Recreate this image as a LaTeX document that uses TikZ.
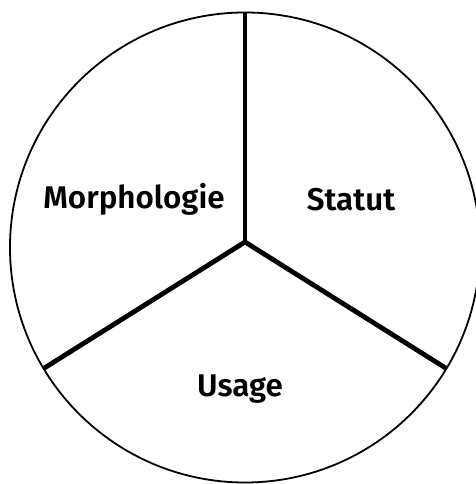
\documentclass[tikz,border=0pt]{standalone}
\usepackage{fontspec}
\setmainfont{Fira Sans}[BoldFont={Fira Sans SemiBold}]
\usepackage{tikz}
\usetikzlibrary{calc}
\begin{document}
\begin{tikzpicture}[x=1bp,y=1bp,
  part/.style={font=\fontsize{31.5}{36}\selectfont\bfseries,inner sep=0pt},
  divider/.style={line width=4.8bp}]
\useasboundingbox (0,0) rectangle (476,484);
\clip (0,0) rectangle (476,484);
\coordinate (centre) at (245,236.5);
\coordinate (hub) at (245,242);
\draw[line width=1.8bp] (centre) circle[radius=235];
\foreach \a/\n in {90/top,211/left,-31/right}
  \coordinate (\n) at ($(centre)+(\a:235)$);
\draw[divider,line cap=butt] (top) -- (hub);
\draw[divider,line join=miter] (left) -- (hub) -- (right);
\node[part] (morph) at (134,285) {Morphologie};
\node[part] (statut) at (351,284) {Statut};
\node[part] (usage) at (240,95) {Usage};
\end{tikzpicture}
\end{document}
